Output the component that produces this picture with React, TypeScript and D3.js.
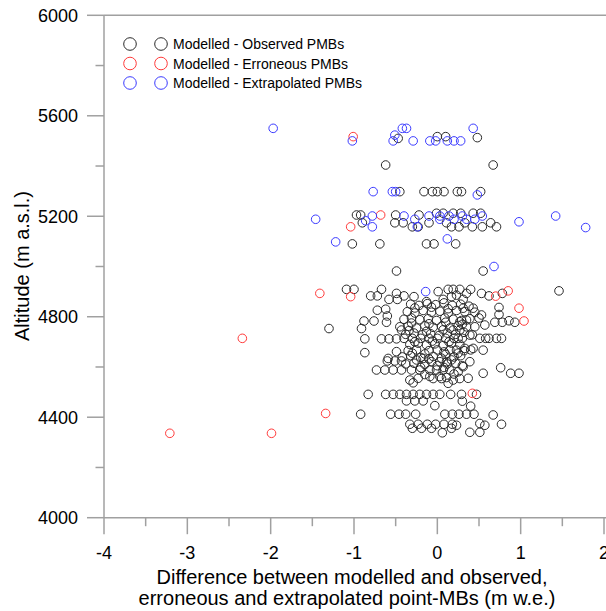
import React from "react";
import * as d3 from "d3";

const W = 606;
const H = 611;

// Modelled - Observed PMBs (difference m w.e., altitude m)
const observed: [number, number][] = [
  [-0.47, 5510], [0.0, 5517], [0.1, 5517], [0.48, 5513], [-0.62, 5404], [0.67, 5404],
  [-0.45, 5298], [-0.16, 5298], [-0.06, 5298], [0.0, 5298], [0.08, 5298], [0.24, 5298], [0.29, 5298], [0.52, 5298],
  [-0.97, 5205], [-0.92, 5205], [-0.9, 5174], [-0.5, 5205], [-0.51, 5174], [-0.41, 5174], [-0.3, 5158], [-0.23, 5158],
  [-0.22, 5205], [-0.1, 5174], [-0.01, 5212], [0.07, 5212], [0.19, 5212], [0.28, 5212], [0.43, 5212], [0.52, 5212],
  [0.11, 5174], [0.17, 5158], [0.26, 5158], [0.33, 5174], [0.42, 5158], [0.54, 5158], [0.64, 5174], [0.71, 5158],
  [-1.02, 5090], [-0.69, 5090], [-0.13, 5090], [-0.04, 5090], [0.22, 5090],
  [-0.49, 4982], [0.55, 4982],
  [-1.09, 4909], [-1.0, 4909], [-0.8, 4883], [-0.72, 4883], [-0.67, 4909], [-0.58, 4869], [-0.49, 4893], [-0.48, 4869],
  [-0.4, 4883], [-0.28, 4880], [-0.13, 4860], [0.01, 4900], [0.13, 4909], [0.19, 4909], [0.27, 4909], [0.35, 4893],
  [0.4, 4909], [0.53, 4893], [0.62, 4883], [0.07, 4869], [0.17, 4880], [0.23, 4886], [0.31, 4869], [0.78, 4893], [1.46, 4903],
  [0.74, 4837], [0.74, 4809], [0.69, 4778], [0.78, 4778], [0.86, 4784], [0.93, 4778], [0.71, 4714], [0.77, 4714],
  [-1.3, 4753], [-0.91, 4753], [-0.88, 4783], [-0.76, 4783], [-0.72, 4826], [-0.6, 4803], [-0.61, 4778], [-0.62, 4830],
  [-0.87, 4712], [-0.67, 4712], [-0.58, 4712], [-0.49, 4712], [-0.87, 4657], [-0.49, 4661], [-0.43, 4747], [-0.59, 4634],
  [-0.73, 4588], [-0.63, 4588], [-0.53, 4588], [-0.43, 4588], [-0.31, 4588], [-0.21, 4588],
  [-0.6, 4624], [-0.51, 4624], [-0.43, 4624],
  [-0.33, 4548], [-0.23, 4555], [-0.09, 4588], [-0.01, 4588], [0.07, 4588], [0.15, 4588], [-0.09, 4562], [0.03, 4562], [0.11, 4558],
  [0.11, 4621], [0.03, 4621], [-0.07, 4621], [-0.17, 4634],
  [-0.83, 4491], [-0.62, 4491], [-0.53, 4491], [-0.45, 4491], [-0.37, 4491], [-0.29, 4491], [-0.21, 4491], [-0.13, 4491],
  [-0.05, 4491], [0.03, 4491], [0.16, 4491], [0.29, 4491], [0.47, 4491],
  [-0.37, 4465], [-0.27, 4465], [-0.17, 4465], [-0.03, 4446], [0.3, 4464], [0.4, 4444],
  [-0.92, 4412], [-0.56, 4412], [-0.46, 4412], [-0.38, 4412], [-0.26, 4412], [0.09, 4412], [0.18, 4412], [0.26, 4412],
  [0.35, 4412], [0.44, 4412], [0.67, 4409], [0.77, 4372],
  [-0.33, 4372], [-0.23, 4372], [-0.12, 4372], [-0.02, 4372], [0.08, 4372], [0.18, 4372], [0.23, 4368], [0.51, 4375], [0.57, 4368],
  [-0.3, 4356], [-0.19, 4356], [-0.07, 4356], [0.06, 4338], [0.17, 4356], [0.39, 4340], [0.51, 4340],
  [0.55, 4575], [0.76, 4597], [0.88, 4575], [0.98, 4575], [0.39, 4621], [0.31, 4601], [0.25, 4581], [0.37, 4555], [0.19, 4548],
  [-0.05, 4554], [0.05, 4554], [0.27, 4554], [-0.29, 4537], [0.13, 4535],
  [0.31, 4834], [0.43, 4834], [0.53, 4807], [0.57, 4767], [0.45, 4760], [0.35, 4787], [0.27, 4780], [0.39, 4727],
  [0.51, 4714], [0.25, 4714], [0.33, 4674], [0.43, 4674], [0.55, 4667], [0.23, 4667], [0.19, 4747], [0.27, 4747],
  [-0.32, 4850], [-0.22, 4845], [-0.12, 4852], [-0.02, 4848], [0.08, 4855], [0.18, 4845], [0.28, 4850], [0.38, 4842],
  [-0.36, 4820], [-0.27, 4815], [-0.17, 4825], [-0.07, 4818], [0.03, 4822], [0.13, 4815], [0.23, 4825], [0.33, 4820], [0.45, 4818],
  [-0.4, 4790], [-0.31, 4795], [-0.21, 4788], [-0.11, 4792], [-0.01, 4785], [0.09, 4795], [0.19, 4790], [0.29, 4785], [0.39, 4792], [0.5, 4795],
  [-0.45, 4760], [-0.35, 4762], [-0.25, 4755], [-0.15, 4765], [-0.05, 4758], [0.05, 4762], [0.15, 4755], [0.25, 4765], [0.35, 4760],
  [-0.38, 4730], [-0.28, 4735], [-0.18, 4728], [-0.08, 4732], [0.02, 4725], [0.12, 4735], [0.22, 4730], [0.32, 4738], [0.42, 4728],
  [-0.4, 4714], [-0.3, 4714], [-0.2, 4714], [-0.1, 4714], [0.0, 4714], [0.1, 4714], [0.2, 4714], [0.3, 4714], [0.58, 4714], [0.62, 4714],
  [-0.33, 4690], [-0.23, 4695], [-0.13, 4688], [-0.03, 4692], [0.07, 4685], [0.17, 4695], [0.27, 4690],
  [-0.35, 4665], [-0.25, 4668], [-0.1, 4665], [0.0, 4668], [0.08, 4660], [0.15, 4668], [0.32, 4665], [0.4, 4668],
  [-0.42, 4640], [-0.32, 4645], [-0.2, 4638], [-0.05, 4642], [0.05, 4635], [0.2, 4640], [0.28, 4645],
  [-0.38, 4612], [-0.28, 4615], [-0.15, 4610], [0.0, 4605], [0.12, 4612], [0.22, 4615], [0.3, 4605],
  [-0.27, 4835], [-0.07, 4838], [0.13, 4832], [-0.31, 4775], [-0.1, 4772], [0.1, 4778], [0.3, 4770],
  [-0.34, 4745], [-0.13, 4742], [0.07, 4748], [-0.27, 4700], [-0.06, 4703], [0.14, 4700],
  [-0.3, 4655], [-0.15, 4652], [0.1, 4650], [0.25, 4655], [-0.25, 4628], [-0.1, 4632], [0.17, 4628],
  [-0.2, 4598], [0.08, 4598], [-0.15, 4570], [0.2, 4572],
];

// Modelled - Erroneous PMBs
const erroneous: [number, number][] = [
  [-1.01, 5517], [-0.68, 5205], [-1.04, 5158], [-1.41, 4893], [-1.04, 4880], [0.7, 4882], [0.85, 4903],
  [0.98, 4834], [1.04, 4783], [0.42, 4495], [-1.34, 4415], [-3.21, 4336], [-1.99, 4336], [-2.34, 4714],
];

// Modelled - Extrapolated PMBs
const extrapolated: [number, number][] = [
  [-1.97, 5550], [-1.02, 5500], [-0.51, 5523], [-0.53, 5500], [-0.42, 5550], [-0.37, 5550], [-0.29, 5500],
  [-0.09, 5500], [-0.02, 5500], [0.12, 5500], [0.2, 5500], [0.28, 5500], [0.43, 5550],
  [-0.77, 5298], [-0.54, 5298], [-0.5, 5298], [0.48, 5285],
  [-1.46, 5188], [-1.22, 5098], [-0.86, 5182], [-0.78, 5201], [-0.78, 5158], [-0.4, 5201], [-0.27, 5188],
  [-0.24, 5158], [-0.1, 5201], [0.03, 5201], [0.03, 5188], [0.14, 5201], [0.2, 5188], [0.3, 5201], [0.35, 5188],
  [0.45, 5188], [0.54, 5201], [0.98, 5178], [1.42, 5201], [1.78, 5155], [0.12, 5110], [0.68, 5000], [-0.14, 4900],
];

const xTicks = [-4, -3, -2, -1, 0, 1, 2];
const xMinor = [-3.5, -2.5, -1.5, -0.5, 0.5, 1.5];
const yTicks = [4000, 4400, 4800, 5200, 5600, 6000];
const yMinor = [4200, 4600, 5000, 5400, 5800];

const legendLabels = [
  "Modelled - Observed PMBs",
  "Modelled - Erroneous PMBs",
  "Modelled - Extrapolated PMBs",
];
const seriesColors = ["#2a2a2a", "#ff3b3b", "#3b3bff"];

export default function App() {
  const x = d3.scaleLinear().domain([-4, 2]).range([104, 604]);
  const y = d3.scaleLinear().domain([4000, 6000]).range([517.7, 15.3]);
  const axisColor = "#a0a0a0";
  const font = "'Liberation Sans', Arial, sans-serif";
  const series = [observed, erroneous, extrapolated];
  const x0 = x(-4);
  const yb = y(4000);
  const yt = y(6000);

  return (
    <svg width={W} height={H} style={{ position: "absolute", left: 0, top: 0 }} fontFamily={font}>
      <rect width={W} height={H} fill="#fff" />
      {/* axes */}
      <line x1={x0} x2={W} y1={yt} y2={yt} stroke={axisColor} strokeWidth={1.5} />
      <line x1={x0} x2={W} y1={yb} y2={yb} stroke={axisColor} strokeWidth={1.5} />
      <line x1={x0} x2={x0} y1={yt} y2={yb} stroke={axisColor} strokeWidth={1.5} />
      {yTicks.map((t) => (
        <g key={"yt" + t}>
          <line x1={x0 - 17} x2={x0} y1={y(t)} y2={y(t)} stroke={axisColor} strokeWidth={1.5} />
          <text x={78} y={y(t)} dy="0.36em" textAnchor="end" fontSize={18} fill="#000">{t}</text>
        </g>
      ))}
      {yMinor.map((t) => (
        <line key={"ym" + t} x1={x0 - 8.5} x2={x0} y1={y(t)} y2={y(t)} stroke={axisColor} strokeWidth={1.5} />
      ))}
      {xTicks.map((t) => (
        <g key={"xt" + t}>
          <line x1={x(t)} x2={x(t)} y1={yb} y2={yb + 16.5} stroke={axisColor} strokeWidth={1.5} />
          <text x={x(t)} y={559} textAnchor="middle" fontSize={18} fill="#000">{t}</text>
        </g>
      ))}
      {xMinor.map((t) => (
        <line key={"xm" + t} x1={x(t)} x2={x(t)} y1={yb} y2={yb + 8.5} stroke={axisColor} strokeWidth={1.5} />
      ))}
      <text x={352} y={584} textAnchor="middle" fontSize={20} fill="#000">
        Difference between modelled and observed,
      </text>
      <text x={347} y={605} textAnchor="middle" fontSize={20} fill="#000">
        erroneous and extrapolated point-MBs (m w.e.)
      </text>
      <text transform={`translate(29, 266) rotate(-90)`} textAnchor="middle" fontSize={20} fill="#000">
        Altitude (m a.s.l.)
      </text>
      {/* data */}
      {series.map((s, i) => (
        <g key={"s" + i} fill="none" stroke={seriesColors[i]} strokeWidth={1}>
          {s.map((d, j) => (
            <circle key={j} cx={x(d[0])} cy={y(d[1])} r={4.3} />
          ))}
        </g>
      ))}
      {/* legend */}
      {legendLabels.map((lab, i) => (
        <g key={"lg" + i} transform={`translate(0, ${44 + i * 19.5})`}>
          <circle cx={130} cy={0} r={6.3} fill="none" stroke={seriesColors[i]} strokeWidth={1} />
          <circle cx={161} cy={0} r={6.3} fill="none" stroke={seriesColors[i]} strokeWidth={1} />
          <text x={173} y={0} dy="0.36em" fontSize={14} fill="#000">{lab}</text>
        </g>
      ))}
    </svg>
  );
}
